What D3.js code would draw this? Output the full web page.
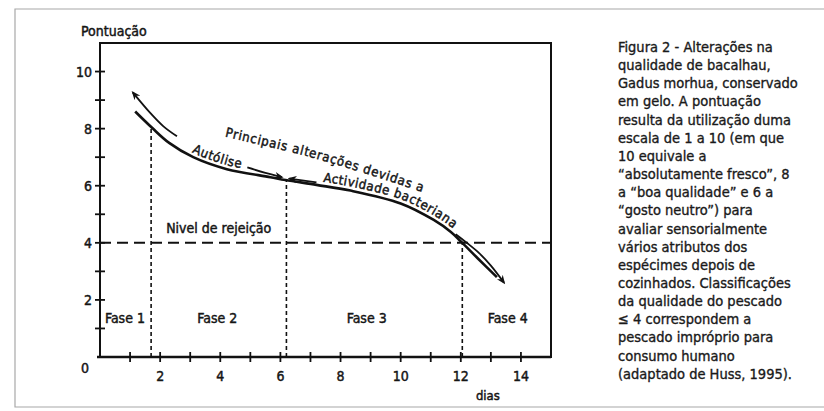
<!DOCTYPE html>
<html>
<head>
<meta charset="utf-8">
<script src="https://cdn.jsdelivr.net/npm/d3@7"></script>
<style>
  body { margin: 0; background: #fff; }
  svg { display: block; }
  .lbl { font-family: "DejaVu Sans Condensed", "DejaVu Sans", sans-serif; font-stretch: condensed; fill: #151515; stroke: #151515; stroke-width: 0.45px; }
  .cap { font-family: "DejaVu Sans Condensed", "DejaVu Sans", sans-serif; font-stretch: condensed; fill: #1a1a1a; stroke: #1a1a1a; stroke-width: 0.35px; }
</style>
</head>
<body>
<svg id="chart" width="824" height="411"></svg>
<script>

// Main quality curve (dias, pontuação)
var curveDays  = [1.17, 1.74, 2.3, 3.1, 4.22, 5.67, 6.17, 7.2, 8.33, 10, 11.1, 11.67, 12, 12.56, 13.2];
var curveScore = [8.6, 8.02, 7.5, 7.0, 6.58, 6.3, 6.2, 6.03, 5.83, 5.38, 4.8, 4.38, 4.05, 3.46, 2.8];

// Arrows drawn beside the curve
var autolysisUpDays   = [2.56, 2.11, 1.67, 1.09];
var autolysisUpScore  = [7.73, 8.08, 8.55, 9.27];
var autolysisDays     = [4.9, 5.5, 6.05];
var autolysisScore    = [6.64, 6.45, 6.3];
var bacteriaDays      = [7.2, 6.3];
var bacteriaScore     = [6.12, 6.25];
var spoilDays         = [11.83, 12.2, 12.61, 13.0, 13.44];
var spoilScore        = [4.3, 4.0, 3.64, 3.2, 2.6];

// Baseline of the "Principais alterações devidas a" label
var titleDays  = [4.15, 7.0, 9.5, 11.2];
var titleScore = [7.72, 7.0, 6.2, 5.6];

// Phases
var phaseNames = ["Fase 1", "Fase 2", "Fase 3", "Fase 4"];
var phaseMid   = [0.83, 3.9, 8.87, 13.56];
var phaseEdge  = [1.7, 6.2, 12.05];
var phaseTop   = [8.05, 6.18, 4.0];
var rejectLevel = 4;

// Axis ticks
var xTicks  = [1, 2, 3, 4, 5, 6, 7, 8, 9, 10, 11, 12, 13, 14];
var xLabels = [2, 4, 6, 8, 10, 12, 14];
var yTicks  = [1, 2, 3, 4, 5, 6, 7, 8, 9, 10];
var yLabels = [2, 4, 6, 8, 10];

var caption = [
    "Figura 2 - Alterações na",
    "qualidade de bacalhau,",
    "Gadus morhua, conservado",
    "em gelo. A pontuação",
    "resulta da utilização duma",
    "escala de 1 a 10 (em que",
    "10 equivale a",
    "\u201cabsolutamente fresco\u201d, 8",
    "a \u201cboa qualidade\u201d e 6 a",
    "\u201cgosto neutro\u201d) para",
    "avaliar sensorialmente",
    "vários atributos dos",
    "espécimes depois de",
    "cozinhados. Classificações",
    "da qualidade do pescado",
    "\u2264 4 correspondem a",
    "pescado impróprio para",
    "consumo humano",
    "(adaptado de Huss, 1995)."
];

function zip(a, b) { return a.map(function(d, i) { return { x: d, y: b[i] }; }); }

var svg = d3.select("#chart");

// page border of the scan
svg.append("path")
    .attr("d", "M830,9 H15 V407 H830")
    .attr("fill", "none")
    .attr("stroke", "#a8a8a8")
    .attr("stroke-width", 1.2);

var xScale = d3.scaleLinear().domain([0, 15]).range([100, 551]);
var yScale = d3.scaleLinear().domain([0, 11]).range([357, 43]);

var smooth = d3.line()
    .x(function(d) { return xScale(d.x); })
    .y(function(d) { return yScale(d.y); })
    .curve(d3.curveCatmullRom.alpha(0.5));

// arrowhead
svg.append("defs").append("marker")
    .attr("id", "head")
    .attr("viewBox", "0 0 10 10")
    .attr("refX", 8).attr("refY", 5)
    .attr("markerWidth", 9).attr("markerHeight", 9)
    .attr("markerUnits", "userSpaceOnUse")
    .attr("orient", "auto")
    .append("path")
    .attr("d", "M0,1 L10,5 L0,9 L3,5 Z")
    .attr("fill", "#111");

// frame
svg.append("rect")
    .attr("x", xScale(0)).attr("y", yScale(11))
    .attr("width", xScale(15) - xScale(0))
    .attr("height", yScale(0) - yScale(11))
    .attr("fill", "none")
    .attr("stroke", "#111")
    .attr("stroke-width", 2);

// bottom axis a bit heavier
svg.append("line")
    .attr("x1", xScale(0) - 3).attr("x2", xScale(15))
    .attr("y1", yScale(0)).attr("y2", yScale(0))
    .attr("stroke", "#111").attr("stroke-width", 2.6);

// ticks crossing the axes
svg.selectAll(".xt").data(xTicks).enter().append("line")
    .attr("x1", function(d) { return xScale(d); }).attr("x2", function(d) { return xScale(d); })
    .attr("y1", yScale(0) - 5).attr("y2", yScale(0) + 5)
    .attr("stroke", "#111").attr("stroke-width", 1.8);

svg.selectAll(".yt").data(yTicks).enter().append("line")
    .attr("y1", function(d) { return yScale(d); }).attr("y2", function(d) { return yScale(d); })
    .attr("x1", xScale(0) - 5).attr("x2", xScale(0) + 5)
    .attr("stroke", "#111").attr("stroke-width", 1.8);

svg.selectAll(".xl").data(xLabels).enter().append("text")
    .attr("class", "lbl")
    .attr("x", function(d) { return xScale(d); })
    .attr("y", yScale(0) + 24)
    .attr("text-anchor", "middle")
    .style("font-size", "14px")
    .text(function(d) { return d; });

svg.selectAll(".yl").data(yLabels).enter().append("text")
    .attr("class", "lbl")
    .attr("x", xScale(0) - 8)
    .attr("y", function(d) { return yScale(d) + 5; })
    .attr("text-anchor", "end")
    .style("font-size", "14px")
    .text(function(d) { return d; });

svg.append("text").attr("class", "lbl")
    .attr("x", xScale(0) - 15).attr("y", yScale(0) + 16)
    .attr("text-anchor", "middle")
    .style("font-size", "14px")
    .text("0");

svg.append("text").attr("class", "lbl")
    .attr("x", 81).attr("y", 36)
    .style("font-size", "14px")
    .text("Pontuação");

svg.append("text").attr("class", "lbl")
    .attr("x", xScale(12.9)).attr("y", 400)
    .attr("text-anchor", "middle")
    .style("font-size", "13px")
    .text("dias");

// rejection level
svg.append("line")
    .attr("x1", xScale(0)).attr("x2", xScale(15))
    .attr("y1", yScale(rejectLevel)).attr("y2", yScale(rejectLevel))
    .attr("stroke", "#111").attr("stroke-width", 2)
    .attr("stroke-dasharray", "11,6");

svg.append("text").attr("class", "lbl")
    .attr("x", xScale(3.95)).attr("y", yScale(rejectLevel) - 10)
    .attr("text-anchor", "middle")
    .style("font-size", "14px")
    .text("Nivel de rejeição");

// phase boundaries
svg.selectAll(".ph").data(phaseEdge).enter().append("line")
    .attr("x1", function(d) { return xScale(d); }).attr("x2", function(d) { return xScale(d); })
    .attr("y1", yScale(0))
    .attr("y2", function(d, i) { return yScale(phaseTop[i]); })
    .attr("stroke", "#111").attr("stroke-width", 1.6)
    .attr("stroke-dasharray", "4,3");

svg.selectAll(".pn").data(phaseNames).enter().append("text")
    .attr("class", "lbl")
    .attr("x", function(d, i) { return xScale(phaseMid[i]); })
    .attr("y", yScale(1.2))
    .attr("text-anchor", "middle")
    .style("font-size", "14px")
    .text(function(d) { return d; });

// main curve
var mainPath = svg.append("path")
    .attr("id", "main-curve")
    .datum(zip(curveDays, curveScore))
    .attr("d", smooth)
    .attr("fill", "none")
    .attr("stroke", "#111")
    .attr("stroke-width", 2.6);

// arrows beside the curve
[[autolysisUpDays, autolysisUpScore], [autolysisDays, autolysisScore],
 [bacteriaDays, bacteriaScore], [spoilDays, spoilScore]].forEach(function(a) {
    svg.append("path")
        .datum(zip(a[0], a[1]))
        .attr("d", smooth)
        .attr("fill", "none")
        .attr("stroke", "#111")
        .attr("stroke-width", 1.8)
        .attr("marker-end", "url(#head)");
});

// distance along the main curve where it reaches a given day
function offsetAt(day) {
    var node = mainPath.node(), total = node.getTotalLength();
    var lo = 0, hi = total, px = xScale(day);
    for (var k = 0; k < 30; k++) {
        var mid = (lo + hi) / 2;
        if (node.getPointAtLength(mid).x < px) lo = mid; else hi = mid;
    }
    return lo;
}

// hidden path for the title label
svg.select("defs").append("path")
    .attr("id", "title-path")
    .datum(zip(titleDays, titleScore))
    .attr("d", smooth);

svg.append("text").attr("class", "lbl")
    .style("font-size", "13px")
    .style("letter-spacing", "0.8px")
    .append("textPath")
    .attr("href", "#title-path")
    .text("Principais alterações devidas a");

svg.append("text").attr("class", "lbl")
    .attr("dy", -4)
    .style("font-size", "13px")
    .style("letter-spacing", "0.8px")
    .append("textPath")
    .attr("href", "#main-curve")
    .attr("startOffset", offsetAt(3.0))
    .text("Autólise");

svg.append("text").attr("class", "lbl")
    .attr("dy", -4)
    .style("font-size", "13px")
    .style("letter-spacing", "0.5px")
    .append("textPath")
    .attr("href", "#main-curve")
    .attr("startOffset", offsetAt(7.4))
    .text("Actividade bacteriana");

// caption on the right
svg.append("text").attr("class", "cap")
    .style("font-size", "14.5px")
    .selectAll("tspan").data(caption).enter().append("tspan")
    .attr("x", 618)
    .attr("y", function(d, i) { return 52 + i * 18.15; })
    .text(function(d) { return d; });

</script>
</body>
</html>
